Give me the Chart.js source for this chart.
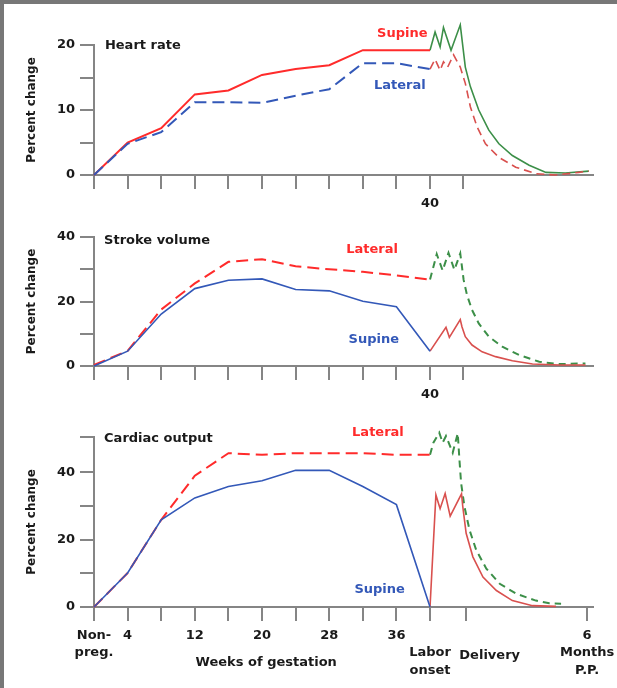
<!DOCTYPE html>
<html>
<head>
<meta charset="utf-8">
<script src="https://cdn.jsdelivr.net/npm/chart.js@4.4.1/dist/chart.umd.min.js"></script>
<style>
  body { margin: 0; background: #fff; overflow: hidden; }
  #frame { position: absolute; left: 0; top: 0; width: 617px; height: 688px; box-sizing: border-box;
           border-top: 4px solid #777; border-left: 4px solid #777; }
  canvas { position: absolute; left: 0; }
</style>
</head>
<body>
<div id="frame"></div>
<canvas id="hr" width="617" height="222" style="top:0px"></canvas>
<canvas id="sv" width="617" height="190" style="top:222px"></canvas>
<canvas id="co" width="617" height="276" style="top:412px"></canvas>
<script>
// weeks of gestation (40 = labor onset, ~44 = delivery, ~58.7 = 6 months post partum)
const gestWeeks = [0, 4, 8, 12, 16, 20, 24, 28, 32, 36, 40];

// heart rate
const hrSupine  = [0, 5.0, 7.2, 12.4, 13.0, 15.4, 16.3, 16.9, 19.2, 19.2, 19.2];
const hrLateral = [0, 4.8, 6.6, 11.2, 11.2, 11.1, 12.2, 13.2, 17.2, 17.2, 16.3];
const hrSupineLaborWeeks  = [40, 40.6, 41.2, 41.6, 42.5, 43.6, 44.2, 44.8, 45.8, 47.0, 48.2, 49.8, 51.8, 53.8, 56.1, 58.9];
const hrSupineLabor       = [19.2, 22.0, 19.7, 22.7, 19.2, 23.1, 16.6, 13.6, 10.0, 6.9, 4.8, 3.0, 1.5, 0.4, 0.3, 0.6];
const hrLateralLaborWeeks = [40, 40.6, 41.2, 41.6, 42.1, 42.8, 43.6, 44.2, 44.8, 45.6, 46.6, 48.2, 50.2, 52.6, 54.9, 57.7, 58.9];
const hrLateralLabor      = [16.3, 17.8, 16.1, 17.4, 16.6, 18.5, 16.6, 14.1, 10.5, 7.4, 4.8, 2.7, 1.2, 0.2, 0, 0.4, 0.6];

// stroke volume
const svLateral = [0.3, 4.7, 17.5, 25.6, 32.3, 33.1, 30.9, 30.0, 29.2, 28.1, 26.8];
const svSupine  = [0, 4.6, 16.1, 24.0, 26.6, 27.0, 23.7, 23.3, 20.1, 18.4, 4.6];
const svLateralLaborWeeks = [40, 40.8, 41.5, 42.2, 42.9, 43.6, 43.8, 44.0, 44.4, 45.0, 45.8, 47.0, 48.6, 50.6, 53.0, 55.4, 58.5];
const svLateralLabor      = [26.8, 34.7, 29.6, 35.1, 29.8, 34.9, 30.8, 26.7, 22.0, 17.4, 13.2, 9.1, 6.0, 3.4, 1.3, 0.6, 0.8];
const svSupineLaborWeeks  = [40, 41.9, 42.3, 43.6, 43.8, 44.2, 45.0, 46.2, 47.8, 49.8, 52.2, 55.4, 58.5];
const svSupineLabor       = [4.6, 12.0, 8.9, 14.4, 12.2, 9.1, 6.5, 4.4, 2.9, 1.6, 0.6, 0.3, 0.3];

// cardiac output
const coLateral = [0, 10.1, 25.9, 39.0, 45.7, 45.2, 45.7, 45.7, 45.7, 45.2, 45.2];
const coSupine  = [0, 10.1, 25.9, 32.4, 35.8, 37.5, 40.6, 40.6, 35.8, 30.4, 0];
const coLateralLaborWeeks = [40, 40.4, 41.1, 41.5, 41.9, 42.7, 43.3, 43.5, 43.7, 44.1, 44.7, 45.5, 46.7, 48.3, 50.3, 52.6, 54.2, 55.6];
const coLateralLabor      = [45.2, 48.8, 51.8, 48.8, 50.8, 45.8, 51.6, 43.8, 36.8, 29.8, 22.9, 16.9, 11.4, 6.9, 3.9, 1.9, 1.1, 1.0];
const coSupineLaborWeeks  = [40, 40.7, 41.2, 41.8, 42.4, 43.75, 43.9, 44.3, 45.1, 46.3, 47.9, 49.8, 52.2, 55.0];
const coSupineLabor       = [0, 33.3, 29.2, 33.7, 27.0, 33.6, 29.8, 21.9, 14.9, 8.9, 4.9, 1.9, 0.4, 0.2];

// ticks
const topTickWeeks = [0, 4, 8, 12, 16, 20, 24, 28, 32, 36, 40, 43.9];
const topTickLabels = ['', '', '', '', '', '', '', '', '', '', '40', ''];
const bottomTickWeeks = [0, 4, 8, 12, 16, 20, 24, 28, 32, 36, 40, 44.3, 58.7];
const bottomTickLabels = [['Non-', 'preg.'], '4', '', '12', '', '20', '', '28', '', '36',
                          ['', 'Labor', 'onset'], '', ['6', 'Months', 'P.P.']];
const hrTicks = [0, 5, 10, 15, 20];
const hrTickLabels = [0, 10, 20];
const svTicks = [0, 10, 20, 30, 40];
const svTickLabels = [0, 20, 40];
const coTicks = [0, 10, 20, 30, 40, 50.5];
const coTickLabels = [0, 20, 40];

const RED = '#ff2b2b';
const BLUE = '#3358b8';
const GREEN = '#3c8f48';
const DULLRED = '#d9504e';
const AXIS = '#858585';
const INK = '#1a1a1a';

Chart.defaults.font.family = '"DejaVu Sans", Verdana, sans-serif';
Chart.defaults.font.size = 13;
Chart.defaults.font.weight = 'bold';
Chart.defaults.color = INK;

function pts(weeks, vals) {
  return weeks.map((w, i) => ({ x: w, y: vals[i] }));
}

// text notes per panel, placed in data units
const panelNotes = {};
Chart.register({
  id: 'notes',
  afterDraw(chart) {
    const items = panelNotes[chart.canvas.id] || [];
    const { ctx, scales: { x, y } } = chart;
    ctx.save();
    ctx.font = 'bold 13px "DejaVu Sans"';
    ctx.textBaseline = 'middle';
    items.forEach(n => {
      ctx.fillStyle = n.color || INK;
      ctx.textAlign = n.align || 'center';
      ctx.fillText(n.text, x.getPixelForValue(n.x), y.getPixelForValue(n.y));
    });
    ctx.restore();
  }
});

function line(data, color, width, dash) {
  return { data: data, borderColor: color, borderWidth: width, borderDash: dash || [],
           pointRadius: 0, tension: 0, fill: false, clip: false };
}

function panel(id, o) {
  panelNotes[id] = o.notes;
  return new Chart(document.getElementById(id), {
    type: 'line',
    data: { datasets: o.datasets },
    options: {
      responsive: false,
      animation: false,
      events: [],
      layout: { padding: { top: o.padTop, right: 24, left: 0, bottom: 0 } },
      plugins: { legend: { display: false }, tooltip: { enabled: false } },
      scales: {
        x: {
          type: 'linear', min: 0, max: 59.4,
          afterBuildTicks: s => { s.ticks = o.xTicks.map(v => ({ value: v })); },
          afterFit: s => { s.height = o.xHeight; s.paddingLeft = 0; s.paddingRight = 0; },
          ticks: { autoSkip: false, maxRotation: 0, padding: 6,
                   font: { lineHeight: 1.33 },
                   callback: (v, i) => o.xLabels[i] },
          grid: { drawOnChartArea: false, tickLength: 14, color: AXIS, lineWidth: 2 },
          border: { color: AXIS, width: 2 }
        },
        y: {
          min: 0, max: o.yMax,
          afterBuildTicks: s => { s.ticks = o.yTicks.map(v => ({ value: v })); },
          afterFit: s => { s.width = 94; },
          ticks: { padding: 5, callback: v => o.yLabels.includes(v) ? String(v) : '' },
          grid: { drawOnChartArea: false, tickLength: 14, color: AXIS, lineWidth: 2 },
          border: { color: AXIS, width: 2 },
          title: { display: true, text: 'Percent change', color: INK,
                   font: { size: 12, weight: 'bold' }, padding: { top: 25, bottom: 0 } }
        }
      }
    }
  });
}

panel('hr', {
  padTop: 45, xHeight: 47, yMax: 20, yTicks: hrTicks, yLabels: hrTickLabels,
  xTicks: topTickWeeks, xLabels: topTickLabels,
  datasets: [
    line(pts(gestWeeks, hrLateral), BLUE, 2, [12, 6]),
    line(pts(gestWeeks, hrSupine), RED, 2),
    line(pts(hrLateralLaborWeeks, hrLateralLabor), DULLRED, 1.6, [8, 5]),
    line(pts(hrSupineLaborWeeks, hrSupineLabor), GREEN, 1.6)
  ],
  notes: [
    { text: 'Heart rate', x: 1.3, y: 19.9, align: 'left' },
    { text: 'Supine', x: 36.7, y: 21.7, color: RED },
    { text: 'Lateral', x: 36.4, y: 13.8, color: BLUE }
  ]
});

panel('sv', {
  padTop: 15, xHeight: 46, yMax: 40, yTicks: svTicks, yLabels: svTickLabels,
  xTicks: topTickWeeks, xLabels: topTickLabels,
  datasets: [
    line(pts(gestWeeks, svSupine), BLUE, 1.6),
    line(pts(gestWeeks, svLateral), RED, 2, [12, 6]),
    line(pts(svSupineLaborWeeks, svSupineLabor), DULLRED, 1.6),
    line(pts(svLateralLaborWeeks, svLateralLabor), GREEN, 2, [7, 5])
  ],
  notes: [
    { text: 'Stroke volume', x: 1.2, y: 38.8, align: 'left' },
    { text: 'Lateral', x: 33.1, y: 36, color: RED },
    { text: 'Supine', x: 33.3, y: 8.1, color: BLUE }
  ]
});

panel('co', {
  padTop: 25, xHeight: 81, yMax: 50.5, yTicks: coTicks, yLabels: coTickLabels,
  xTicks: bottomTickWeeks, xLabels: bottomTickLabels,
  datasets: [
    line(pts(gestWeeks, coSupine), BLUE, 1.6),
    line(pts(gestWeeks, coLateral), RED, 2, [12, 6]),
    line(pts(coSupineLaborWeeks, coSupineLabor), DULLRED, 1.6),
    line(pts(coLateralLaborWeeks, coLateralLabor), GREEN, 2, [7, 5])
  ],
  notes: [
    { text: 'Cardiac output', x: 1.2, y: 50.1, align: 'left' },
    { text: 'Lateral', x: 33.8, y: 51.9, color: RED },
    { text: 'Supine', x: 34.0, y: 5.2, color: BLUE },
    { text: 'Delivery', x: 47.1, y: -14.5 },
    { text: 'Weeks of gestation', x: 20.5, y: -16.6 }
  ]
});
</script>
</body>
</html>
